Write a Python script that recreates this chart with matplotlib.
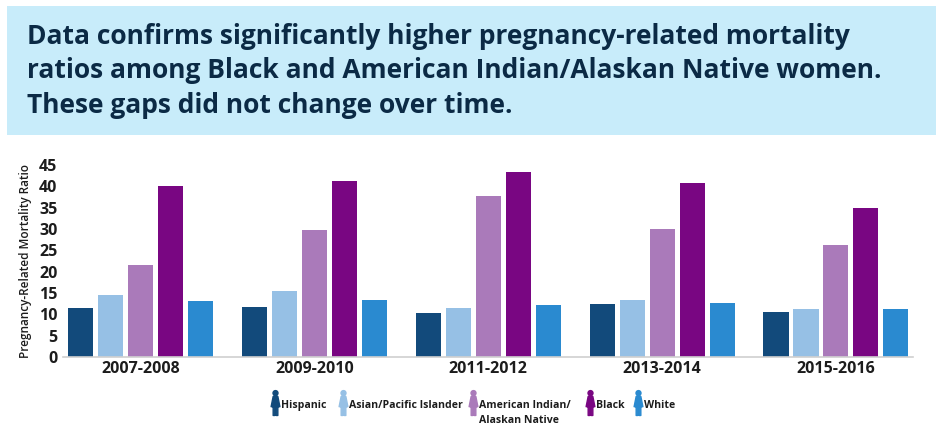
import numpy as np
import matplotlib
matplotlib.use("Agg")
import matplotlib.pyplot as plt
from matplotlib.path import Path
from matplotlib.patches import Rectangle

# 数据
periods = ['2007-2008', '2009-2010', '2011-2012', '2013-2014', '2015-2016']
groups = ['Hispanic', 'Asian/Pacific Islander', 'American Indian/\nAlaskan Native', 'Black', 'White']
hispanic = [11.5, 11.7, 10.3, 12.4, 10.5]
asian_pi = [14.5, 15.5, 11.5, 13.3, 11.2]
aian = [21.5, 29.7, 37.7, 30.0, 26.2]
black = [40.0, 41.2, 43.3, 40.8, 34.9]
white = [13.1, 13.3, 12.2, 12.6, 11.2]
yticks = [0, 5, 10, 15, 20, 25, 30, 35, 40, 45]

colors = ['#124a7b', '#96c0e5', '#aa7aba', '#790682', '#2a8ad0']
title_color = '#0b2a45'
text_color = '#1c1c1c'
font = 'Open Sans'


# 女性图标
def woman_marker():
    head = Path.circle((0, 0.78), 0.17)
    dress = Path([(-0.16, 0.55), (0.16, 0.55), (0.3, -0.15), (-0.3, -0.15), (-0.16, 0.55)],
                 [Path.MOVETO, Path.LINETO, Path.LINETO, Path.LINETO, Path.CLOSEPOLY])
    leg1 = Path([(-0.16, -0.15), (-0.04, -0.15), (-0.04, -0.75), (-0.16, -0.75), (-0.16, -0.15)],
                [Path.MOVETO, Path.LINETO, Path.LINETO, Path.LINETO, Path.CLOSEPOLY])
    leg2 = Path([(0.04, -0.15), (0.16, -0.15), (0.16, -0.75), (0.04, -0.75), (0.04, -0.15)],
                [Path.MOVETO, Path.LINETO, Path.LINETO, Path.LINETO, Path.CLOSEPOLY])
    return Path.make_compound_path(head, dress, leg1, leg2)


fig = plt.figure(figsize=(9.43, 4.36), dpi=100)

# 标题框
fig.patches.append(Rectangle((7 / 943, 1 - 135 / 436), 929 / 943, 129 / 436,
                             transform=fig.transFigure, facecolor='#c8ecfa',
                             edgecolor='none', zorder=0))
title = ('Data confirms significantly higher pregnancy-related mortality\n'
         'ratios among Black and American Indian/Alaskan Native women.\n'
         'These gaps did not change over time.')
fig.text(27 / 943, 1 - 71 / 436, title, ha='left', va='center', fontsize=19,
         fontweight='bold', family=font, color=title_color, linespacing=1.36)

# 柱状图
ax = fig.add_axes([63 / 943, 1 - 357 / 436, 850 / 943, 192 / 436])
series = [hispanic, asian_pi, aian, black, white]
x = np.arange(len(periods))
step = 0.1725
width = 0.144
for i, (vals, c) in enumerate(zip(series, colors)):
    ax.bar(x + (i - 2) * step, vals, width=width, color=c, zorder=2)

ax.set_xlim(-0.446, 4.443)
ax.set_ylim(0, 45)
ax.set_yticks(yticks)
ax.set_yticklabels([str(t) for t in yticks], fontsize=11.5, fontweight='bold',
                   family=font, color=text_color)
ax.set_xticks(x)
ax.set_xticklabels(periods, fontsize=11.5, fontweight='bold', family=font,
                   color=text_color)
ax.tick_params(axis='both', length=0)
ax.tick_params(axis='y', pad=4)
ax.tick_params(axis='x', pad=3)
for s in ['top', 'right', 'left']:
    ax.spines[s].set_visible(False)
ax.spines['bottom'].set_color('#d0d0d0')
ax.spines['bottom'].set_linewidth(1.2)
ax.set_ylabel('Pregnancy-Related Mortality Ratio', fontsize=8.5, family=font,
              fontweight='semibold', color=text_color, labelpad=5)

# 图例
marker = woman_marker()
lx = [275, 343, 473, 590, 638]
ly = 1 - 404 / 436
for xi, lab, c in zip(lx, groups, colors):
    fig.lines.append(plt.Line2D([xi / 943], [ly], marker=marker, markersize=20,
                                color=c, linestyle='none',
                                transform=fig.transFigure))
    fig.text((xi + 6) / 943, ly - 0.003, lab.split('\n')[0], ha='left', va='center',
             fontsize=7.6, fontweight='bold', family=font, color=text_color)
    if '\n' in lab:
        fig.text((xi + 6) / 943, ly - 15 / 436 - 0.003, lab.split('\n')[1], ha='left',
                 va='center', fontsize=7.6, fontweight='bold', family=font,
                 color=text_color)

fig.savefig('out.png', dpi=100)
